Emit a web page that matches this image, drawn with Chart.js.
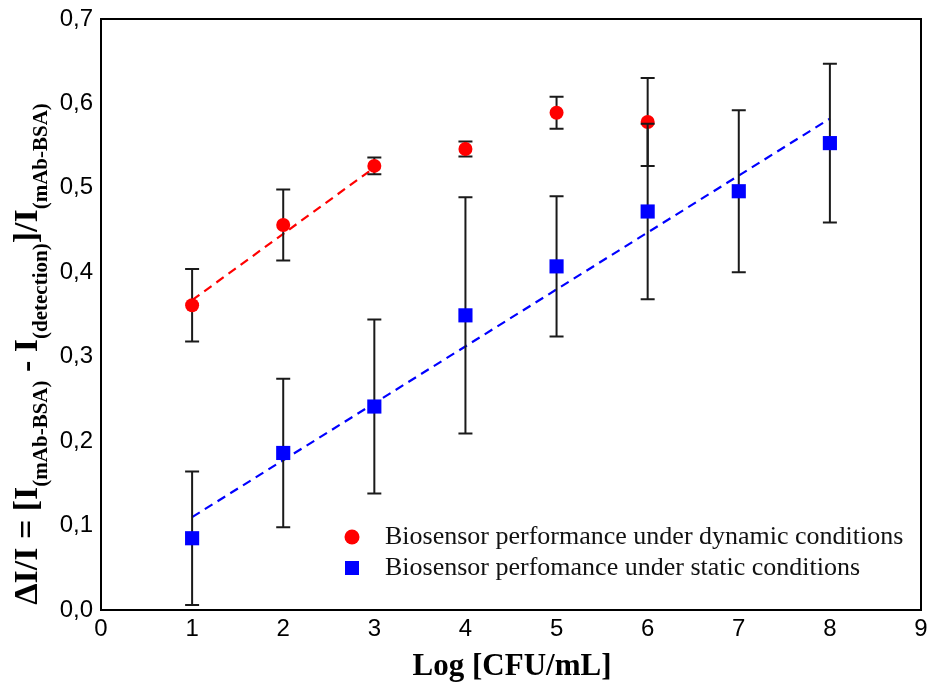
<!DOCTYPE html>
<html>
<head>
<meta charset="utf-8">
<script src="https://cdn.jsdelivr.net/npm/chart.js@4"></script>
<style>
  html, body { margin: 0; padding: 0; background: #fff; }
  #wrap { width: 929px; height: 684px; }
</style>
</head>
<body>
<div id="wrap"><canvas id="chart" width="929" height="684"></canvas></div>
<script>
// log concentrations
const logCFU = [1, 2, 3, 4, 5, 6, 7, 8];

// dynamic conditions (red)
const dynamicY = [0.361, 0.456, 0.526, 0.546, 0.589, 0.578];
const dynamicErr = [0.043, 0.042, 0.010, 0.009, 0.019, 0.052];

// static conditions (blue)
const staticY = [0.085, 0.186, 0.241, 0.349, 0.407, 0.472, 0.496, 0.553];
const staticErr = [0.079, 0.088, 0.103, 0.140, 0.083, 0.104, 0.096, 0.094];

// linear fits (end points)
const fitDynamicX = [1, 3];
const fitDynamicY = [0.367, 0.524];
const fitStaticX = [1, 8];
const fitStaticY = [0.110, 0.582];

const xTicks = [0, 1, 2, 3, 4, 5, 6, 7, 8, 9];
const yTicks = [0, 0.1, 0.2, 0.3, 0.4, 0.5, 0.6, 0.7];

const legendLabels = [
  'Biosensor performance under dynamic conditions',
  'Biosensor perfomance under static conditions'
];

const toPoints = (xs, ys) => ys.map((y, i) => ({ x: xs[i], y }));

// error bars are drawn right before each dataset's markers
const errorBars = {
  id: 'errorBars',
  beforeDatasetDraw(chart, args) {
    const ds = chart.data.datasets[args.index];
    if (!ds.err) return;
    const { ctx, scales: { x, y } } = chart;
    ctx.save();
    ctx.strokeStyle = '#1a1a1a';
    ctx.lineWidth = 2;
    ds.data.forEach((p, i) => {
      const px = x.getPixelForValue(p.x);
      const top = y.getPixelForValue(p.y + ds.err[i]);
      const bot = y.getPixelForValue(p.y - ds.err[i]);
      ctx.beginPath();
      ctx.moveTo(px, top); ctx.lineTo(px, bot);
      ctx.moveTo(px - 7, top); ctx.lineTo(px + 7, top);
      ctx.moveTo(px - 7, bot); ctx.lineTo(px + 7, bot);
      ctx.stroke();
    });
    ctx.restore();
  }
};

const decorations = {
  id: 'decorations',
  afterDraw(chart) {
    const { ctx, chartArea: a } = chart;
    ctx.save();
    // frame
    ctx.strokeStyle = '#000';
    ctx.lineWidth = 2;
    ctx.strokeRect(a.left, a.top, a.right - a.left, a.bottom - a.top);

    // legend inside plot
    const lx = a.left + 251, ly = a.bottom - 73;
    ctx.fillStyle = '#ff0000';
    ctx.beginPath(); ctx.arc(lx, ly, 7.5, 0, Math.PI * 2); ctx.fill();
    ctx.fillStyle = '#0000ff';
    ctx.fillRect(lx - 7, ly + 31 - 7, 14, 14);
    ctx.fillStyle = '#111';
    ctx.font = '26px "Liberation Serif", "Times New Roman", serif';
    ctx.textBaseline = 'middle';
    ctx.textAlign = 'left';
    ctx.fillText(legendLabels[0], lx + 33, ly);
    ctx.fillText(legendLabels[1], lx + 33, ly + 31);

    // x axis title
    ctx.fillStyle = '#000';
    ctx.font = 'bold 31px "Liberation Serif", "Times New Roman", serif';
    ctx.textAlign = 'center';
    ctx.textBaseline = 'alphabetic';
    ctx.fillText('Log [CFU/mL]', 512, 675);

    // y axis title with subscripts
    const big = 'bold 34px "Liberation Serif", "Times New Roman", serif';
    const sub = 'bold 21px "Liberation Serif", "Times New Roman", serif';
    const parts = [
      ['\u0394I/I = [I', big, 0],
      ['(mAb-BSA)', sub, 10],
      [' - I', big, 0],
      ['(detection)', sub, 10],
      [']/I', big, 0],
      ['(mAb-BSA)', sub, 10]
    ];
    let total = 0;
    parts.forEach(p => { ctx.font = p[1]; total += ctx.measureText(p[0]).width; });
    ctx.translate(37, 354);
    ctx.rotate(-Math.PI / 2);
    ctx.textAlign = 'left';
    let cx = -total / 2;
    parts.forEach(p => {
      ctx.font = p[1];
      ctx.fillText(p[0], cx, p[2]);
      cx += ctx.measureText(p[0]).width;
    });
    ctx.restore();
  }
};

const tickFont = { family: '"Liberation Sans", Arial, sans-serif', size: 24 };

new Chart(document.getElementById('chart'), {
  type: 'scatter',
  data: {
    datasets: [
      {
        label: legendLabels[1],
        data: toPoints(logCFU, staticY),
        err: staticErr,
        backgroundColor: '#0000ff',
        borderColor: '#0000ff',
        pointStyle: 'rect',
        pointRadius: 10,
        borderWidth: 0,
        order: 0
      },
      {
        label: legendLabels[0],
        data: toPoints(logCFU, dynamicY),
        err: dynamicErr,
        backgroundColor: '#ff0000',
        borderColor: '#ff0000',
        pointStyle: 'circle',
        pointRadius: 7,
        borderWidth: 0,
        order: 1
      },
      {
        label: 'fit static',
        type: 'line',
        data: toPoints(fitStaticX, fitStaticY),
        borderColor: '#0000ff',
        borderWidth: 2.2,
        borderDash: [9, 6],
        pointRadius: 0,
        fill: false,
        order: 2
      },
      {
        label: 'fit dynamic',
        type: 'line',
        data: toPoints(fitDynamicX, fitDynamicY),
        borderColor: '#ff0000',
        borderWidth: 2.2,
        borderDash: [9, 6],
        pointRadius: 0,
        fill: false,
        order: 3
      }
    ]
  },
  options: {
    responsive: false,
    animation: false,
    layout: { autoPadding: false, padding: { left: 0, right: 8, top: 19, bottom: 0 } },
    plugins: {
      legend: { display: false },
      tooltip: { enabled: false }
    },
    scales: {
      x: {
        type: 'linear',
        min: xTicks[0],
        max: xTicks[xTicks.length - 1],
        afterBuildTicks: s => { s.ticks = xTicks.map(v => ({ value: v })); },
        afterFit: s => { s.height = 74; s.paddingLeft = 0; s.paddingRight = 0; },
        grid: { display: false, drawTicks: false },
        border: { display: true, color: '#000', width: 2 },
        ticks: { font: tickFont, color: '#000', padding: 5, maxRotation: 0 }
      },
      y: {
        type: 'linear',
        min: yTicks[0],
        max: yTicks[yTicks.length - 1],
        afterBuildTicks: s => { s.ticks = yTicks.map(v => ({ value: v })); },
        afterFit: s => { s.width = 101; s.paddingTop = 0; s.paddingBottom = 0; },
        grid: { display: false, drawTicks: false },
        border: { display: true, color: '#000', width: 2 },
        ticks: {
          font: tickFont,
          color: '#000',
          padding: 8,
          callback: v => v.toFixed(1).replace('.', ',')
        }
      }
    }
  },
  plugins: [errorBars, decorations]
});
</script>
</body>
</html>
